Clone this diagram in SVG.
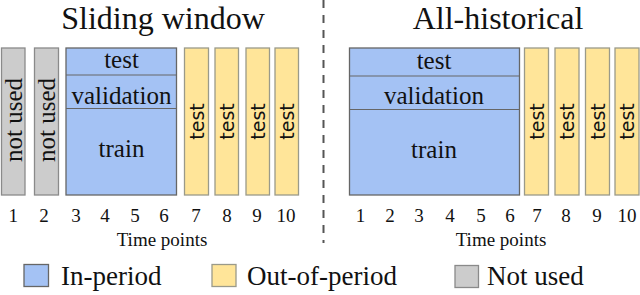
<svg xmlns="http://www.w3.org/2000/svg" width="640" height="295" viewBox="0 0 640 295">
<style>
.gray{fill:#cccccc;stroke:#8a8a8a;stroke-width:1.3}
.yel{fill:#ffe599;stroke:#9a9a8a;stroke-width:1.3}
.blue{fill:#a4c2f4;stroke:#666;stroke-width:1.3}
.div{stroke:#666;stroke-width:1.2}
.s{font-family:"Liberation Serif",serif;fill:#111}
.m{text-anchor:middle}
.ttl{font-size:32px}
.lb{font-size:25px}
.n{font-size:19px}
.lg{font-size:27px}
.t{font-family:"DejaVu Sans",sans-serif;font-size:19px;fill:#111;text-anchor:middle}
</style>
<rect width="640" height="295" fill="#fff"/>
<g id="titles">
<text class="s m ttl" x="163" y="29">Sliding window</text>
<text class="s m ttl" x="498" y="29">All-historical</text>
</g>
<g id="connectors">
<line x1="323.5" y1="0" x2="323.5" y2="243" stroke="#555" stroke-width="2" stroke-dasharray="8,7"/>
</g>
<g id="left-panel">
<g id="l1"><rect class="gray" x="1.5" y="48" width="23.5" height="147"/><text class="s m lb" transform="translate(22,120) rotate(-90)">not used</text></g>
<g id="l2"><rect class="gray" x="34.5" y="48" width="24" height="147"/><text class="s m lb" transform="translate(55,120) rotate(-90)">not used</text></g>
<g id="l-in">
<rect class="blue" x="66" y="48" width="110.5" height="147"/>
<line class="div" x1="66" y1="75" x2="176.5" y2="75"/>
<line class="div" x1="66" y1="108.5" x2="176.5" y2="108.5"/>
<text class="s m lb" x="121.5" y="68">test</text>
<text class="s m lb" x="121.5" y="104">validation</text>
<text class="s m lb" x="121.5" y="157">train</text>
</g>
<g id="l7"><rect class="yel" x="184.5" y="48" width="24" height="147"/><text class="t" transform="translate(203.5,121.5) rotate(-90)">test</text></g>
<g id="l8"><rect class="yel" x="215" y="48" width="23.5" height="147"/><text class="t" transform="translate(233.5,121.5) rotate(-90)">test</text></g>
<g id="l9"><rect class="yel" x="246" y="48" width="23.5" height="147"/><text class="t" transform="translate(264.5,121.5) rotate(-90)">test</text></g>
<g id="l10"><rect class="yel" x="275" y="48" width="23.5" height="147"/><text class="t" transform="translate(293.5,121.5) rotate(-90)">test</text></g>
<g id="l-axis">
<text class="s m n" x="13.3" y="222">1</text>
<text class="s m n" x="44" y="222">2</text>
<text class="s m n" x="76" y="222">3</text>
<text class="s m n" x="105" y="222">4</text>
<text class="s m n" x="135" y="222">5</text>
<text class="s m n" x="164" y="222">6</text>
<text class="s m n" x="196" y="222">7</text>
<text class="s m n" x="227" y="222">8</text>
<text class="s m n" x="257" y="222">9</text>
<text class="s m n" x="286" y="222">10</text>
<text class="s m n" x="162" y="246">Time points</text>
</g>
</g>
<g id="right-panel">
<g id="r-in">
<rect class="blue" x="349.5" y="48" width="170" height="147"/>
<line class="div" x1="349.5" y1="76" x2="519.5" y2="76"/>
<line class="div" x1="349.5" y1="109.5" x2="519.5" y2="109.5"/>
<text class="s m lb" x="434" y="69">test</text>
<text class="s m lb" x="434" y="104">validation</text>
<text class="s m lb" x="434" y="158">train</text>
</g>
<g id="r7"><rect class="yel" x="524.5" y="48" width="24" height="147"/><text class="t" transform="translate(543.5,121.5) rotate(-90)">test</text></g>
<g id="r8"><rect class="yel" x="555" y="48" width="24" height="147"/><text class="t" transform="translate(574,121.5) rotate(-90)">test</text></g>
<g id="r9"><rect class="yel" x="585.5" y="48" width="24" height="147"/><text class="t" transform="translate(604.5,121.5) rotate(-90)">test</text></g>
<g id="r10"><rect class="yel" x="615" y="48" width="24" height="147"/><text class="t" transform="translate(634,121.5) rotate(-90)">test</text></g>
<g id="r-axis">
<text class="s m n" x="360.5" y="222">1</text>
<text class="s m n" x="390" y="222">2</text>
<text class="s m n" x="419" y="222">3</text>
<text class="s m n" x="450" y="222">4</text>
<text class="s m n" x="481" y="222">5</text>
<text class="s m n" x="510" y="222">6</text>
<text class="s m n" x="537" y="222">7</text>
<text class="s m n" x="566" y="222">8</text>
<text class="s m n" x="597" y="222">9</text>
<text class="s m n" x="627" y="222">10</text>
<text class="s m n" x="501" y="246">Time points</text>
</g>
</g>
<g id="legend">
<g id="leg-in"><rect class="blue" x="24" y="264.5" width="24.5" height="22" stroke="#999"/><text class="s lg" x="61" y="285">In-period</text></g>
<g id="leg-out"><rect class="yel" x="212" y="264.5" width="24" height="22"/><text class="s lg" x="247" y="285">Out-of-period</text></g>
<g id="leg-nu"><rect class="gray" x="455" y="265.5" width="23.5" height="22"/><text class="s lg" x="487" y="285">Not used</text></g>
</g>
</svg>
